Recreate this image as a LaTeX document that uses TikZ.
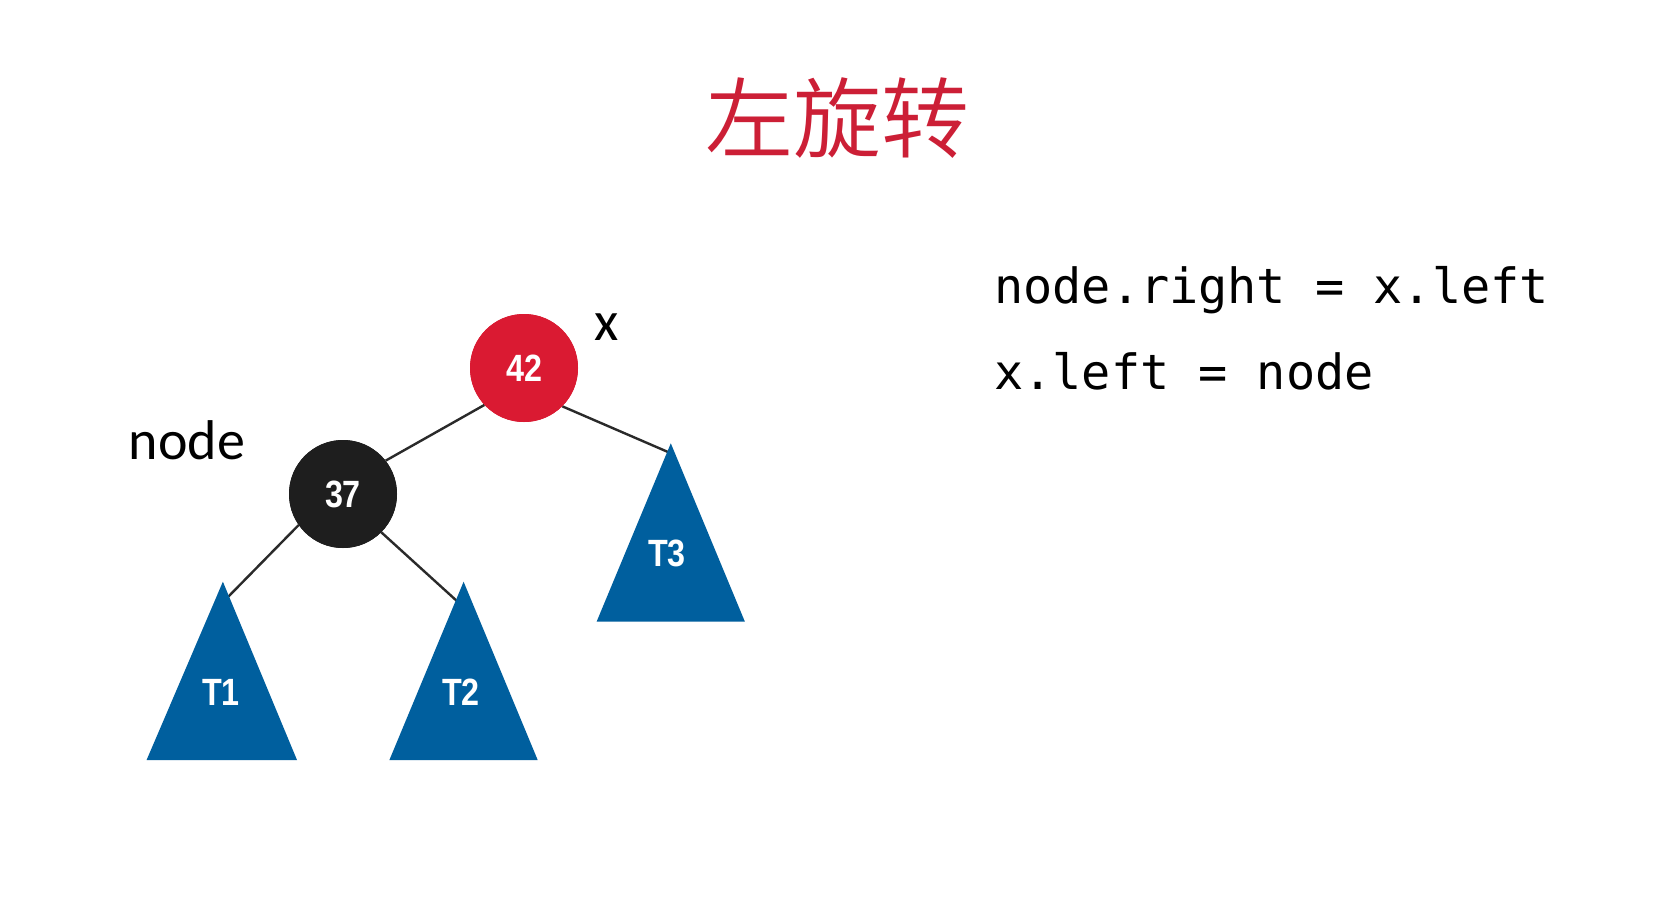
\documentclass[tikz,border=0pt]{standalone}
\usepackage{fontspec}
\setmainfont{Carlito}
\newfontfamily\cjkfont{Noto Sans CJK SC}[UprightFont={* DemiLight}]
\newfontfamily\codefont{DejaVu Sans Mono}
\newfontfamily\numfont[FakeStretch=0.85]{Liberation Sans}
\definecolor{titlered}{HTML}{CC1F36}
\definecolor{nodered}{HTML}{DA1A32}
\definecolor{nodeblack}{HTML}{1E1E1E}
\definecolor{treeblue}{HTML}{005F9E}
\definecolor{edgegray}{HTML}{2A2A2A}
\tikzset{
  rbnode/.style={circle, minimum size=108pt, inner sep=0pt, text=white, font=\numfont\bfseries\fontsize{38}{38}\selectfont},
  subtree/.style={fill=treeblue, draw=none},
  treelabel/.style={text=white, font=\numfont\bfseries\fontsize{38}{38}\selectfont},
  edge/.style={draw=edgegray, line width=2.4pt},
  sidelabel/.style={font=\fontsize{56}{56}\selectfont, text=black},
  codeline/.style={font=\codefont\fontsize{48.5}{48.5}\selectfont, anchor=base west, inner sep=0pt}
}
\begin{document}
\begin{tikzpicture}[x=1pt,y=-1pt]
\useasboundingbox[fill=white] (0,0) rectangle (1662,918);
% title
\node[text=titlered, font=\cjkfont\fontsize{88}{88}\selectfont] (title) at (837,118) {左旋转};
% apex coordinates
\coordinate (t1a) at (222.9,581.7);
\coordinate (t2a) at (463.6,581.7);
\coordinate (t3a) at (670.8,443.3);
\coordinate (t1e) at (227,598);
\coordinate (t2e) at (458,602);
\coordinate (t3e) at (668,452);
% nodes
\node[rbnode, fill=nodered] (n42) at (524,368) {42};
\node[rbnode, fill=nodeblack] (n37) at (343,494) {37};
% edges
\draw[edge] (n42.223) -- (n37.38);
\draw[edge] (n42.315) -- (t3e);
\draw[edge] (n37.215) -- (t1e);
\draw[edge] (n37.315) -- (t2e);
% redraw circles on top
\node[rbnode, fill=nodered] at (n42) {42};
\node[rbnode, fill=nodeblack] at (n37) {37};
% subtrees
\fill[subtree] (t1a) -- (297,760) -- (146.6,760) -- cycle;
\fill[subtree] (t2a) -- (537.7,760) -- (389.4,760) -- cycle;
\fill[subtree] (t3a) -- (744.9,621.7) -- (596.6,621.7) -- cycle;
\node[treelabel] (T1) at (221,692) {T1};
\node[treelabel] (T2) at (461,692) {T2};
\node[treelabel] (T3) at (667,553) {T3};
% side labels
\node[sidelabel] (xlab) at (607,327) {x};
\node[sidelabel] (nodelab) at (187,440) {node};
% code
\node[codeline] (code1) at (994,303) {node.right = x.left};
\node[codeline] (code2) at (994,389) {x.left = node};
\end{tikzpicture}
\end{document}
